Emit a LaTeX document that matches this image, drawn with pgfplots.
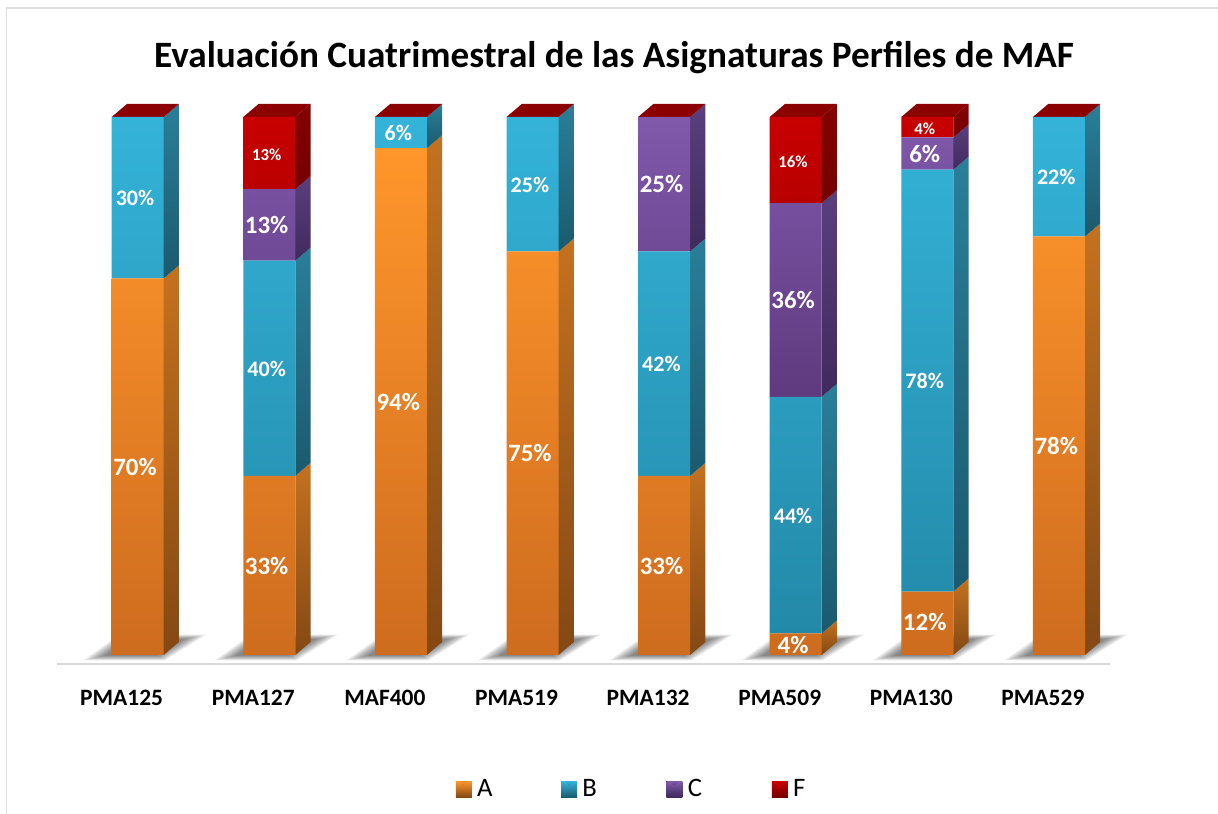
\documentclass[border=0pt]{standalone}
\usepackage{pgfplots}
\pgfplotsset{compat=1.18}
\usepackage{fontspec}
\setmainfont{Carlito}
\definecolor{fAt}{HTML}{FF962B}\definecolor{fAb}{HTML}{CE6C1F}
\definecolor{fBt}{HTML}{34B3D9}\definecolor{fBb}{HTML}{2389A8}
\definecolor{fCt}{HTML}{8059AC}\definecolor{fCb}{HTML}{5F3A7E}
\definecolor{fFt}{HTML}{C80000}\definecolor{fFb}{HTML}{B80000}
\definecolor{sAt}{HTML}{C4721F}\definecolor{sAb}{HTML}{844814}
\definecolor{sBt}{HTML}{2A7F99}\definecolor{sBb}{HTML}{1B5A6E}
\definecolor{sCt}{HTML}{5A3F7E}\definecolor{sCb}{HTML}{3F2A5C}
\definecolor{sFt}{HTML}{850000}\definecolor{sFb}{HTML}{750000}
\definecolor{cap}{HTML}{8B0000}
\pgfplotsset{
  base/.style={
    scale only axis, width=789.75pt, height=423pt,
    xmin=-0.613, xmax=7.388, ymin=-1.673, ymax=103.16,
    clip=false, anchor=south west, at={(0pt,0pt)},
  },
}
\def\hw{0.1975}\def\ddx{0.116}\def\ddy{2.42}
\newcommand\seg[4]{%
  \pgfmathsetmacro\xa{#1+\hw}\pgfmathsetmacro\xb{\xa+\ddx}%
  \pgfmathsetmacro\ya{#2+\ddy}\pgfmathsetmacro\yb{#3+\ddy}%
  \edef\tmp{\noexpand\addplot[draw=none,forget plot,top color=s#4t,bottom color=s#4b] coordinates {(\xa,#2)(\xb,\ya)(\xb,\yb)(\xa,#3)};}\tmp}
\newcommand\capface[1]{%
  \pgfmathsetmacro\xa{#1-\hw}\pgfmathsetmacro\xb{#1+\hw}%
  \pgfmathsetmacro\xc{\xb+\ddx}\pgfmathsetmacro\xd{\xa+\ddx}\pgfmathsetmacro\yb{100+\ddy}%
  \edef\tmp{\noexpand\addplot[draw=none,fill=cap,forget plot] coordinates {(\xa,100)(\xb,100)(\xc,\yb)(\xd,\yb)};}\tmp}
\newcommand\shlayer[2]{%
  \pgfmathsetmacro\xa{#1+0.045+#2*(-0.448)}\pgfmathsetmacro\xb{#1+0.045+#2*(0.16)}%
  \pgfmathsetmacro\xc{#1+0.045+#2*(0.464)}\pgfmathsetmacro\xd{#1+0.045+#2*(-0.182)}%
  \pgfmathsetmacro\ya{1.4+#2*(-2.33)}\pgfmathsetmacro\yb{1.4+#2*(2.32)}%
  \edef\tmp{\noexpand\addplot[draw=none,fill=black,fill opacity=0.075,forget plot] coordinates {(\xa,\ya)(\xb,\ya)(\xc,\yb)(\xd,\yb)};}\tmp}
\newcommand\shadow[1]{\shlayer{#1}{1.02}\shlayer{#1}{0.97}\shlayer{#1}{0.92}\shlayer{#1}{0.87}\shlayer{#1}{0.82}\shlayer{#1}{0.77}\shlayer{#1}{0.72}\shlayer{#1}{0.67}}
\newcommand\swatch[3]{%
  \fill[top color=#2,bottom color=#3] (0pt,-6pt) rectangle (12pt,6pt);
  \fill[#1] (1.5pt,6pt) -- (10.5pt,6pt) -- (6pt,1.5pt) -- cycle;}
\begin{document}
\begin{tikzpicture}
\path[use as bounding box] (-42.75pt,-112.5pt) rectangle (870.75pt,498pt);
% frame of the original picture
\draw[color=black!13,line width=1.1pt] (-37.9pt,-112.5pt) -- (-37.9pt,492pt) -- (870.75pt,492pt);
% shadows, side faces and top caps
\begin{axis}[base, hide axis]
\shadow{0}\shadow{1}\shadow{2}\shadow{3}\shadow{4}\shadow{5}\shadow{6}\shadow{7}
\seg{0}{0}{70}{A}\seg{0}{70}{100}{B}
\seg{1}{0}{33.3}{A}\seg{1}{33.3}{73.3}{B}\seg{1}{73.3}{86.6}{C}\seg{1}{86.6}{100}{F}
\seg{2}{0}{94.2}{A}\seg{2}{94.2}{100}{B}
\seg{3}{0}{75}{A}\seg{3}{75}{100}{B}
\seg{4}{0}{33.3}{A}\seg{4}{33.3}{75}{B}\seg{4}{75}{100}{C}
\seg{5}{0}{4}{A}\seg{5}{4}{48}{B}\seg{5}{48}{84}{C}\seg{5}{84}{100}{F}
\seg{6}{0}{11.8}{A}\seg{6}{11.8}{90.2}{B}\seg{6}{90.2}{96.2}{C}\seg{6}{96.2}{100}{F}
\seg{7}{0}{77.8}{A}\seg{7}{77.8}{100}{B}
\capface{0}\capface{1}\capface{2}\capface{3}\capface{4}\capface{5}\capface{6}\capface{7}
\end{axis}
% front faces
\begin{axis}[base,
  ybar stacked, bar width=39pt,
  axis x line=bottom, axis y line=none,
  axis line style={color=black!15,line width=1.5pt,-},
  xtick={0,1,2,3,4,5,6,7},
  xticklabels={PMA125,PMA127,MAF400,PMA519,PMA132,PMA509,PMA130,PMA529},
  xtick style={draw=none},
  xticklabel style={font=\fontsize{17.6pt}{19pt}\selectfont\bfseries,yshift=-14pt,xshift=-12pt},
  title={Evaluación Cuatrimestral de las Asignaturas Perfiles de MAF},
  title style={font=\fontsize{27.9pt}{30pt}\selectfont\bfseries,at={(0.529,1.0605)},anchor=center},
  legend columns=4, legend cell align=left,
  legend style={draw=none,fill=none,at={(0.546,-0.222)},anchor=center,font=\fontsize{20pt}{22pt}\selectfont},
]
\addplot[draw=none,top color=fAt,bottom color=fAb,
  legend image code/.code={\swatch{fAt!55!white}{fAt}{sAb}}]
  coordinates {(0,70)(1,33.3)(2,94.2)(3,75)(4,33.3)(5,4)(6,11.8)(7,77.8)};
\addlegendentry{\makebox[63pt][l]{\hspace*{2pt}A}}
\addplot[draw=none,top color=fBt,bottom color=fBb,
  legend image code/.code={\swatch{fBt!50!white}{fBt}{sBb}}]
  coordinates {(0,30)(1,40)(2,5.8)(3,25)(4,41.7)(5,44)(6,78.4)(7,22.2)};
\addlegendentry{\makebox[63pt][l]{\hspace*{2pt}B}}
\addplot[draw=none,top color=fCt,bottom color=fCb,
  legend image code/.code={\swatch{fCt!50!white}{fCt}{sCb}}]
  coordinates {(0,0)(1,13.3)(2,0)(3,0)(4,25)(5,36)(6,6)(7,0)};
\addlegendentry{\makebox[63pt][l]{\hspace*{2pt}C}}
\addplot[draw=none,top color=fFt,bottom color=fFb,
  legend image code/.code={\swatch{red!85!white}{fFt}{sFb}}]
  coordinates {(0,0)(1,13.4)(2,0)(3,0)(4,0)(5,16)(6,3.8)(7,0)};
\addlegendentry{\hspace*{2pt}F}
\end{axis}
% data labels
\begin{axis}[base, hide axis,
  nodes near coords={\pgfmathprintnumber[fixed,precision=0,assume math mode=true]{\pgfplotspointmeta}\%},
  point meta=explicit,
]
\addplot[only marks,mark=none,nodes near coords style={anchor=center,inner sep=0pt,text=white,font=\fontsize{18.7pt}{20pt}\selectfont\bfseries}]
 table[x=x,y=y,meta=v]{
 x y v
 -0.02 35 70
 0.98 16.6 33
 1.98 47.1 94
 2.98 37.5 75
 3.98 16.6 33
 4.98 1.9 4
 5.98 6.1 12
 6.98 38.9 78
 0.98 80 13
 3.98 87.5 25
 4.98 66 36
 5.98 93.2 6
};
\addplot[only marks,mark=none,nodes near coords style={anchor=center,inner sep=0pt,yshift=-0.5pt,text=white,font=\fontsize{16.6pt}{18pt}\selectfont\bfseries}]
 table[x=x,y=y,meta=v]{
 x y v
 -0.02 85 30
 0.98 53.3 40
 1.98 97.1 6
 2.98 87.5 25
 3.98 54.2 42
 4.98 26 44
 5.98 51 78
 6.98 88.9 22
};
\addplot[only marks,mark=none,nodes near coords style={anchor=center,inner sep=0pt,yshift=-1pt,text=white,font=\fontsize{12.6pt}{14pt}\selectfont\bfseries}]
 table[x=x,y=y,meta=v]{
 x y v
 0.98 93.3 13
 4.98 92 16
 5.98 98.1 4
};
\end{axis}
\end{tikzpicture}
\end{document}
